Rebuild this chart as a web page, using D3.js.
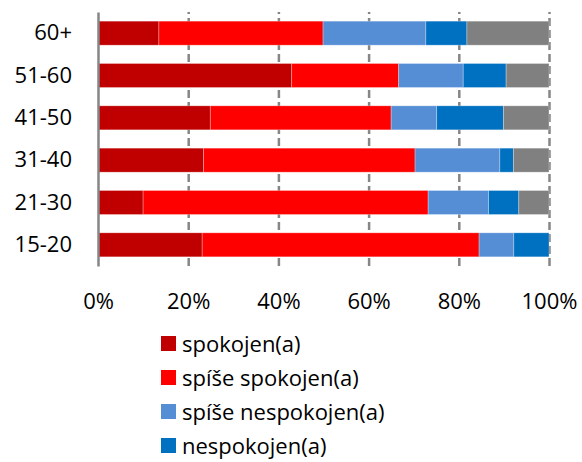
<!DOCTYPE html>
<html>
<head>
<meta charset="utf-8">
<script src="https://cdn.jsdelivr.net/npm/d3@7"></script>
<style>
  body { margin: 0; background: #fff; }
  svg text { font-family: "Open Sans", "Liberation Sans", sans-serif; fill: #000; }
</style>
</head>
<body>
<div id="chart"></div>
<script>
// Chart values (percent of respondents per age group)
var categories = ["60+", "51-60", "41-50", "31-40", "21-30", "15-20"];
var spokojen = [13.5, 42.9, 24.9, 23.4, 10.0, 23.1];
var spiseSpokojen = [36.4, 23.7, 40.1, 46.9, 63.2, 61.4];
var spiseNespokojen = [22.8, 14.3, 10.1, 18.8, 13.4, 7.7];
var nespokojen = [9.1, 9.5, 14.8, 3.0, 6.7, 7.8];
var ostatni = [18.2, 9.5, 10.1, 7.9, 6.7, 0.0];
var seriesNames = ["spokojen(a)", "spíše spokojen(a)", "spíše nespokojen(a)", "nespokojen(a)", "ostatní"];
var legendNames = ["spokojen(a)", "spíše spokojen(a)", "spíše nespokojen(a)", "nespokojen(a)"];
var xTicks = [0, 0.2, 0.4, 0.6, 0.8, 1];

var colors = ["#c00000", "#ff0000", "#558ed5", "#0070c0", "#808080"];

var w = 582, h = 462;
var plot = { left: 98, right: 549, top: 12, bottom: 266 };

// Build rows for the stack
var seriesValues = [spokojen, spiseSpokojen, spiseNespokojen, nespokojen, ostatni];
var rows = categories.map(function(c, i) {
  var r = { cat: c };
  seriesNames.forEach(function(s, j) { r[s] = seriesValues[j][i]; });
  return r;
});

var stacked = d3.stack().keys(seriesNames).offset(d3.stackOffsetExpand)(rows);

var svg = d3.select("#chart").append("svg")
  .attr("width", w)
  .attr("height", h);

// Scales
var xScale = d3.scaleLinear().domain([0, 1]).range([plot.left, plot.right]);
var yScale = d3.scaleBand().domain(categories).range([plot.top, plot.bottom])
  .paddingInner(0.433).paddingOuter(0.2165);

// Dashed gridlines
var grid = svg.append("g")
  .attr("transform", "translate(0," + plot.bottom + ")")
  .call(d3.axisBottom(xScale).tickValues(xTicks.slice(1)).tickSize(-(plot.bottom - plot.top)).tickFormat(""));
grid.select(".domain").remove();
grid.selectAll("line")
  .attr("stroke", "#868686")
  .attr("stroke-width", 2.5)
  .attr("stroke-dasharray", "8,4");

// Bars
svg.append("g").selectAll("g").data(stacked).enter().append("g")
  .attr("fill", function(d, i) { return colors[i]; })
  .selectAll("rect").data(function(d) { return d; }).enter().append("rect")
    .attr("x", function(d) { return xScale(d[0]); })
    .attr("y", function(d) { return yScale(d.data.cat); })
    .attr("width", function(d) { return xScale(d[1]) - xScale(d[0]); })
    .attr("height", yScale.bandwidth())
    .attr("stroke", "#ffffff")
    .attr("stroke-opacity", 0.35)
    .attr("stroke-width", 0.8);

// Y axis
var yAxis = svg.append("g")
  .attr("transform", "translate(" + plot.left + ",0)")
  .call(d3.axisLeft(yScale).tickSize(0).tickSizeOuter(0).tickPadding(26));
yAxis.select(".domain").attr("stroke", "#868686").attr("stroke-width", 2.5);
yAxis.selectAll("text").style("font-size", "22px");

// X axis labels
var xAxis = svg.append("g")
  .attr("transform", "translate(0," + plot.bottom + ")")
  .call(d3.axisBottom(xScale).tickValues(xTicks).tickSize(0).tickFormat(d3.format(".0%")));
xAxis.select(".domain").remove();
xAxis.selectAll("text")
  .style("font-size", "22px")
  .attr("y", 43)
  .attr("dy", 0);

// Legend
var legend = svg.append("g").selectAll("g").data(legendNames).enter().append("g")
  .attr("transform", function(d, i) { return "translate(161," + (344 + i * 34) + ")"; });
legend.append("rect")
  .attr("x", 0).attr("y", -8)
  .attr("width", 15).attr("height", 15)
  .attr("fill", function(d, i) { return colors[i]; });
legend.append("text")
  .attr("x", 21)
  .attr("dy", "0.35em")
  .style("font-size", "22px")
  .text(function(d) { return d; });
</script>
</body>
</html>
